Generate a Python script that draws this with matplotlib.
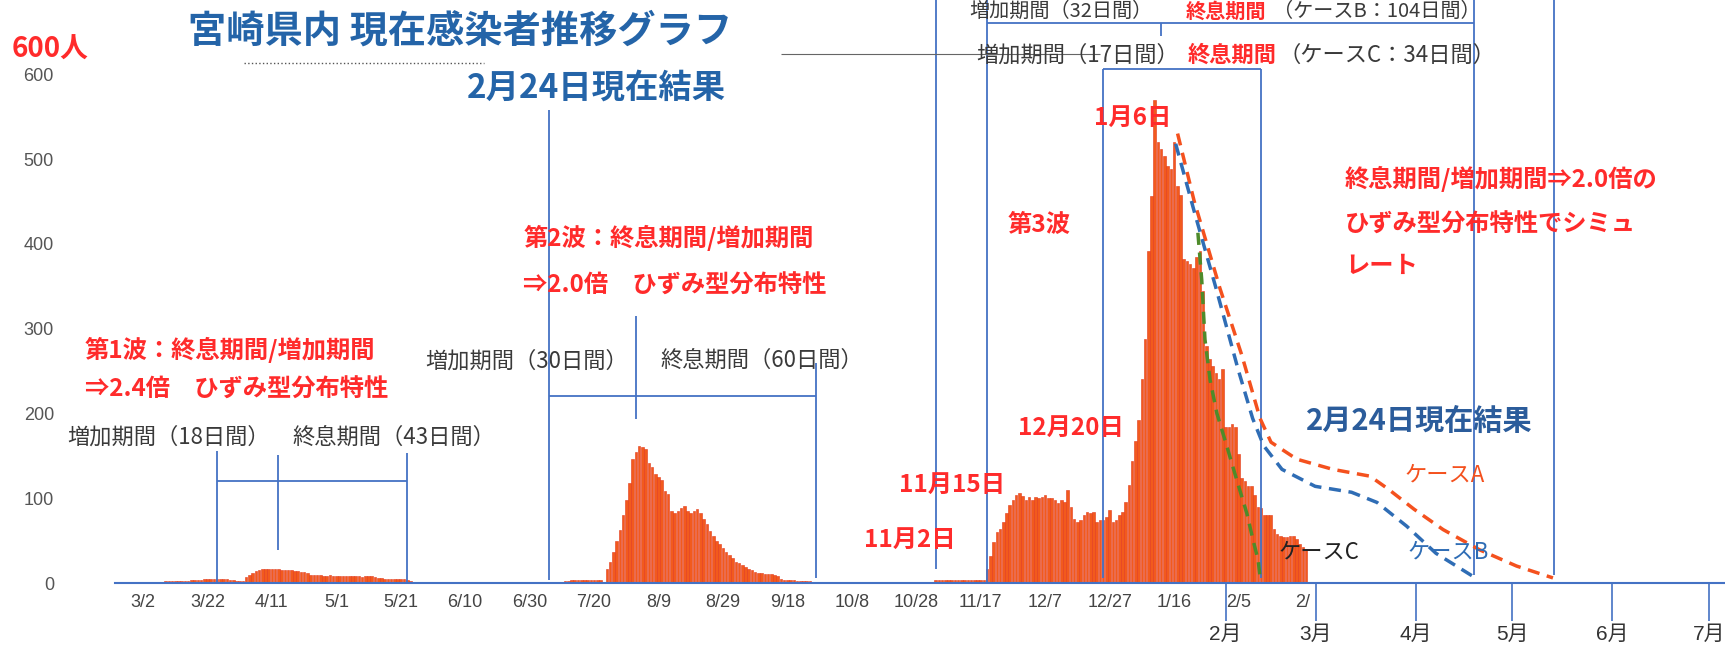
import numpy as np
import pandas as pd
import matplotlib
matplotlib.use('Agg')
import matplotlib.pyplot as plt
import matplotlib.dates as mdates
from matplotlib.lines import Line2D

JP = ['Noto Sans CJK JP', 'DejaVu Sans']
NARROW = ['Liberation Sans Narrow', 'Liberation Sans', 'Noto Sans CJK JP']

RED = '#FF2B2B'
BLUE = '#4472C4'
GRAY = '#3a3a3a'
BAR = '#F25A1D'

# ---- data: current infected people in Miyazaki ----
origin = '2020-03-02'

first_start = '2020-03-02'
first_wave = [0, 0, 1, 1, 1, 1, 1, 2, 2, 2, 2, 2, 2, 2, 2,
              4, 4, 4, 4, 5, 5, 5, 5, 5, 5, 5, 5, 4, 4, 2, 2, 2,
              7, 10, 12, 14, 15,
              16, 16, 17, 16, 16, 16, 15, 15, 15, 15, 14, 14, 13, 13,
              12, 10, 9, 9, 9,
              8, 8, 9, 8, 8, 8, 8, 8, 8, 8, 8, 8, 7, 8, 8, 8, 7,
              6, 6, 5, 5, 5, 5, 5, 5, 5, 4,
              2, 1, 1, 1, 1, 1, 1, 1]

second_start = '2020-07-11'
second_wave = [2, 2, 3, 3, 3, 3, 3, 3, 3, 3, 3, 4, 1,
               17, 25, 37, 50, 62, 80, 98, 118, 146, 154,
               162, 160, 158, 142, 137, 129, 125, 121, 109, 105,
               85, 83, 85, 89, 91, 85, 83, 85, 87, 83,
               75, 69, 61, 56, 50, 46, 41, 37, 33, 29,
               25, 23, 21, 19, 17, 15, 13, 12, 12, 11,
               11, 11, 9, 8, 5, 4, 3, 3, 3, 2, 2, 2, 2, 2]

third_start = '2020-11-03'
third_wave = [3, 3, 4, 4, 4, 4, 4, 4, 4, 3, 3, 3, 3, 4, 4,
              4, 16, 32, 48, 60, 64, 72, 82, 92, 98,
              104, 106, 103, 98, 102, 98, 102, 100, 101, 104, 100,
              100, 98, 94, 98, 96, 110, 90, 76, 72, 74,
              80, 84, 82, 84, 72, 74, 74, 78, 86, 72, 74,
              80, 84, 96, 116, 144, 168, 192, 240, 288, 392,
              456, 570, 520, 512, 504, 492, 488, 520, 468, 458,
              382, 380, 376, 372, 384, 392, 344, 280, 264, 256,
              248, 240, 252, 184, 184, 188, 184, 152, 124, 120,
              114, 114, 104, 90, 88, 80, 80, 80, 64, 58,
              56, 54, 54, 56, 56, 52, 46, 42, 40]

# simulated decline curves (days after 2020-03-02, people)
caseA_day = [321.1, 326.2, 334.2, 341.0, 346.7, 350.1, 358.1, 369.3, 380.8,
             386.4, 394.5, 403.5, 414.9, 426.3, 437.6]
caseA_val = [530, 451, 348, 269, 194, 166, 146, 134, 126, 111, 87, 63, 39, 20, 6]
caseB_day = [320.5, 326.2, 333.0, 339.8, 344.4, 347.8, 353.5, 363.8, 375.1,
             383.0, 392.2, 401.3, 412.7]
caseB_val = [518, 439, 348, 253, 194, 162, 134, 114, 107, 95, 67, 35, 8]
caseC_day = [327.4, 328.6, 329.6, 331.2, 333.3, 336.4, 339.5, 342.6, 344.5, 346.1, 346.7]
caseC_val = [413, 357, 287, 239, 200, 161, 121, 82, 51, 27, 7]

date_ticks = pd.date_range('2020-03-02', periods=19, freq='20D')
date_labels = ['3/2', '3/22', '4/11', '5/1', '5/21', '6/10', '6/30', '7/20', '8/9',
               '8/29', '9/18', '10/8', '10/28', '11/17', '12/7', '12/27', '1/16',
               '2/5', '2/']
month_ticks = pd.to_datetime(['2021-02-01', '2021-03-01', '2021-04-01',
                              '2021-05-01', '2021-06-01', '2021-07-01'])
month_labels = ['2月', '3月', '4月', '5月', '6月', '7月']


def T(s):
    return mdates.date2num(pd.Timestamp(s))


t0 = T(origin)

fig = plt.figure(figsize=(17.25, 6.47), dpi=100)
ax = fig.add_axes([115 / 1725, 64 / 647, 1610 / 1725, 583 / 647])

for s, vals in [(first_start, first_wave), (second_start, second_wave),
                (third_start, third_wave)]:
    days = mdates.date2num(pd.date_range(s, periods=len(vals), freq='D'))
    ax.bar(days, vals, width=0.8, color=BAR, edgecolor='#E2381B',
           linewidth=0.4, zorder=2)

dash = (0, (3.5, 2.2))
ax.plot(t0 + np.array(caseA_day), caseA_val, color='#F4511E', lw=2.5, ls=dash, zorder=4)
ax.plot(t0 + np.array(caseB_day), caseB_val, color='#2F6DB5', lw=2.5, ls=dash, zorder=4)
ax.plot(t0 + np.array(caseC_day), caseC_val, color='#4E8B2A', lw=2.5, ls=dash, zorder=4)

ax.set_xlim(t0 - 8.7, t0 + 491)
ax.set_ylim(0, 687.5)

# axes styling
for side in ['left', 'top', 'right']:
    ax.spines[side].set_visible(False)
ax.spines['bottom'].set_color(BLUE)
ax.spines['bottom'].set_linewidth(1.5)

ax.set_xticks(mdates.date2num(date_ticks), date_labels)
ax.tick_params(axis='x', length=0, pad=8, labelsize=13, labelcolor='#444444')
ax.set_yticks(range(0, 700, 100))
ax.tick_params(axis='y', length=0, pad=44, labelsize=13, labelcolor='#555555')
for lab in ax.get_xticklabels() + ax.get_yticklabels():
    lab.set_fontfamily(NARROW)

sec = ax.secondary_xaxis('bottom')
sec.set_xticks(mdates.date2num(month_ticks), month_labels)
sec.tick_params(length=27, width=1.2, color=BLUE, pad=3, labelsize=15,
                labelcolor='#333333')
sec.spines['bottom'].set_visible(False)
for lab in sec.get_xticklabels():
    lab.set_fontfamily(NARROW)

# period brackets
vlines = [('2020-03-25', 0, 156), ('2020-04-13', 39, 151), ('2020-05-23', 0, 153),
          ('2020-07-06', 3, 558), ('2020-08-02', 193, 315), ('2020-09-27', 6, 259),
          ('2020-11-03', 16, 720), ('2020-11-19', 0, 720),
          ('2020-12-25', 6, 606), ('2021-02-12', 6, 606),
          ('2021-01-12', 645, 660),
          ('2021-04-19', 10, 720), ('2021-05-14', 10, 720)]
for d, lo, hi in vlines:
    ax.vlines(T(d), lo, hi, color=BLUE, lw=1.3, zorder=3, clip_on=False)
hlines = [(120, '2020-03-25', '2020-05-23'), (220, '2020-07-06', '2020-09-27'),
          (660, '2020-11-19', '2021-04-19'), (606, '2020-12-25', '2021-02-12')]
for v, a, b in hlines:
    ax.hlines(v, T(a), T(b), color=BLUE, lw=1.3, zorder=3, clip_on=False)
ax.hlines(624, T('2020-09-16'), T('2020-12-24'), color='#666666', lw=0.8, zorder=3)


# texts
def gray(d, v, s, size=16):
    ax.text(T(d), v, s, fontsize=size, color=GRAY, family=JP, ha='center',
            va='center', zorder=5)


def red(d, v, s, ha='center', color=RED, size=17.5):
    ax.text(T(d), v, s, fontsize=size, color=color, family=JP, weight='bold',
            ha=ha, va='center', zorder=5)


gray('2020-03-10', 172, '増加期間（18日間）')
gray('2020-05-19', 172, '終息期間（43日間）')
gray('2020-06-29', 262, '増加期間（30日間）')
gray('2020-09-10', 262, '終息期間（60日間）')
gray('2020-12-17', 622, '増加期間（17日間）')
gray('2021-03-23', 622, '（ケースC：34日間）')
gray('2020-12-12', 674, '増加期間（32日間）', size=14.5)
gray('2021-03-20', 674, '（ケースB：104日間）', size=14.5)
red('2021-02-03', 622, '終息期間', size=16)
red('2021-02-01', 674, '終息期間', size=14.5)

red('2020-02-13', 275, '第1波：終息期間/増加期間', ha='left')
red('2020-02-13', 228, '⇒2.4倍　ひずみ型分布特性', ha='left')
red('2020-06-28', 407, '第2波：終息期間/増加期間', ha='left')
red('2020-06-28', 350, '⇒2.0倍　ひずみ型分布特性', ha='left')
red('2020-12-05', 422, '第3波')
red('2021-01-03', 548, '1月6日')
red('2020-12-15', 183, '12月20日')
red('2020-11-08', 116, '11月15日')
red('2020-10-26', 51, '11月2日')
red('2021-03-10', 476, '終息期間/増加期間⇒2.0倍の', ha='left')
red('2021-03-10', 423, 'ひずみ型分布特性でシミュ', ha='left')
red('2021-03-10', 374, 'レート', ha='left')
red('2021-04-02', 191, '2月24日現在結果', color='#2B5C9B', size=21)

ax.text(T('2021-03-02'), 37, 'ケースC', fontsize=16, color='#222222', family=JP,
        ha='center', va='center', zorder=5)
ax.text(T('2021-04-11'), 37, 'ケースB', fontsize=16, color='#2F6DB5', family=JP,
        ha='center', va='center', zorder=5)
ax.text(T('2021-04-10'), 127, 'ケースA', fontsize=16, color='#F4511E', family=JP,
        ha='center', va='center', zorder=5)

fig.text(460 / 1725, 1 - 31 / 647, '宮崎県内 現在感染者推移グラフ', fontsize=27.5,
         weight='bold', color='#2464A8', family=JP, ha='center', va='center')
fig.text(596 / 1725, 1 - 88 / 647, '2月24日現在結果', fontsize=24,
         weight='bold', color='#2464A8', family=JP, ha='center', va='center')
fig.text(50 / 1725, 1 - 50 / 647, '600人', fontsize=20, weight='bold',
         color=RED, family=JP, ha='center', va='center')
fig.add_artist(Line2D([244 / 1725, 484 / 1725], [1 - 63 / 647] * 2,
                      transform=fig.transFigure, color='#555555', lw=1, ls=':'))

fig.savefig('out.png', dpi=100)
